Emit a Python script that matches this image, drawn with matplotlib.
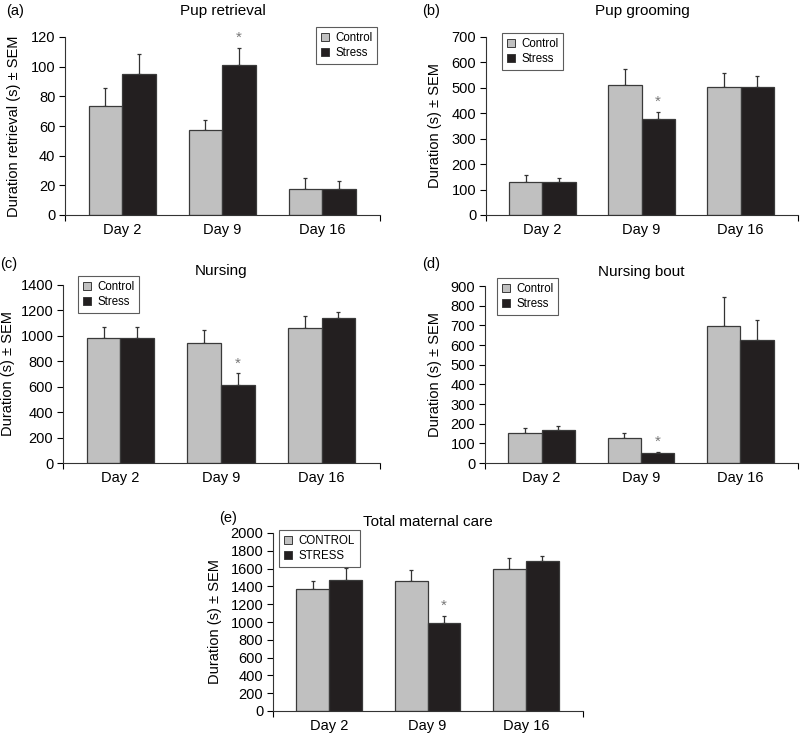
import numpy as np
import matplotlib
matplotlib.use("Agg")
import matplotlib.pyplot as plt
from matplotlib.patches import Patch

plt.rcParams['font.family'] = ['Liberation Sans', 'DejaVu Sans']

days = ['Day 2', 'Day 9', 'Day 16']

retrieval_ctrl = [73.5, 57, 17.5]
retrieval_ctrl_sem = [12, 7, 7.7]
retrieval_stress = [95.3, 101, 17.7]
retrieval_stress_sem = [13, 11.7, 5.4]

grooming_ctrl = [131, 510, 504]
grooming_ctrl_sem = [26, 66, 54]
grooming_stress = [130, 376, 504]
grooming_stress_sem = [14, 31, 42]

nursing_ctrl = [987, 942, 1060]
nursing_ctrl_sem = [86, 105, 100]
nursing_stress = [984, 610, 1144]
nursing_stress_sem = [89, 97, 42]

bout_ctrl = [155, 125, 699]
bout_ctrl_sem = [22, 30, 146]
bout_stress = [166, 51, 625]
bout_stress_sem = [20, 6, 101]

total_ctrl = [1371, 1457, 1599]
total_ctrl_sem = [86, 123, 124]
total_stress = [1472, 989, 1682]
total_stress_sem = [138, 82, 63]

W, H = 800, 734
fig = plt.figure(figsize=(W / 100, H / 100), dpi=100)

CTRL = '#c0c0c0'
STRESS = '#231f20'
EDGE = '#3a3a3a'


def px_axes(left, right, top, bottom):
    return fig.add_axes([left / W, 1 - bottom / H, (right - left) / W, (bottom - top) / H])


def panel(box, ctrl, ctrl_sem, stress, stress_sem, ymax, step, title, title_pad, ylabel,
          tag, tag_xy, ylab_x, leg_xy, labels=('Control', 'Stress'), star=1):
    ax = px_axes(*box)
    x = np.arange(len(days))
    w = 0.335
    ax.bar(x - w / 2, ctrl, w, color=CTRL, edgecolor=EDGE, linewidth=0.9, zorder=2)
    ax.bar(x + w / 2, stress, w, color=STRESS, edgecolor=EDGE, linewidth=0.9, zorder=2)
    ax.errorbar(x - w / 2, ctrl, yerr=[np.zeros(3), ctrl_sem], fmt='none',
                ecolor='#333333', elinewidth=0.9, capsize=1.5, capthick=0.9, zorder=1)
    ax.errorbar(x + w / 2, stress, yerr=[np.zeros(3), stress_sem], fmt='none',
                ecolor='#333333', elinewidth=0.9, capsize=1.5, capthick=0.9, zorder=1)
    top = stress[star] + stress_sem[star]
    ax.annotate('*', (x[star] + w / 2, top), xytext=(0, 2), textcoords='offset points',
                ha='center', va='bottom', fontsize=11, color='#777777')

    ax.set_xlim(-0.57, 2.58)
    ax.set_ylim(0, ymax)
    ax.set_yticks(np.arange(0, ymax + 1, step))
    ax.set_xticks(x)
    ax.set_xticklabels(days)
    ax.tick_params(axis='x', length=0, pad=6, labelsize=10.5)
    ax.tick_params(axis='y', length=4, width=0.8, direction='out', pad=3, labelsize=10.5)
    ax.set_xticks([-0.57, 2.58], minor=True)
    ax.tick_params(axis='x', which='minor', length=4, width=0.8, direction='out')
    for s in ['top', 'right']:
        ax.spines[s].set_visible(False)
    for s in ['left', 'bottom']:
        ax.spines[s].set_linewidth(0.8)
        ax.spines[s].set_color('#333333')

    ax.set_title(title, fontsize=11, pad=title_pad)
    fig.text(tag_xy[0] / W, 1 - tag_xy[1] / H, tag, fontsize=10.5, ha='left', va='center')
    fig.text(ylab_x / W, 1 - ((box[2] + box[3]) / 2) / H, ylabel, rotation=90,
             fontsize=10.5, ha='center', va='center')

    handles = [Patch(facecolor=CTRL, edgecolor=EDGE, linewidth=0.7, label=labels[0]),
               Patch(facecolor=STRESS, edgecolor=EDGE, linewidth=0.7, label=labels[1])]
    leg = ax.legend(handles=handles, loc='upper left',
                    bbox_to_anchor=(leg_xy[0] / W, 1 - leg_xy[1] / H),
                    bbox_transform=fig.transFigure, borderaxespad=0,
                    fontsize=8.3, frameon=True, fancybox=False,
                    handlelength=0.7, handleheight=0.7, handletextpad=0.5,
                    labelspacing=0.25, borderpad=0.45)
    leg.get_frame().set_edgecolor('#333333')
    leg.get_frame().set_linewidth(0.8)
    return ax


panel((65, 380, 37, 215), retrieval_ctrl, retrieval_ctrl_sem, retrieval_stress,
      retrieval_stress_sem, 120, 20, 'Pup retrieval', 16, 'Duration retrieval (s) \u00b1 SEM',
      '(a)', (6, 11), 14, (316, 27))

panel((486, 798, 37, 215), grooming_ctrl, grooming_ctrl_sem, grooming_stress,
      grooming_stress_sem, 700, 100, 'Pup grooming', 16, 'Duration (s) \u00b1 SEM',
      '(b)', (422, 11), 435, (502, 33))

panel((63, 380, 285, 463), nursing_ctrl, nursing_ctrl_sem, nursing_stress,
      nursing_stress_sem, 1400, 200, 'Nursing', 7, 'Duration (s) \u00b1 SEM',
      '(c)', (0, 264), 8, (78, 276))

panel((485, 798, 286, 463), bout_ctrl, bout_ctrl_sem, bout_stress,
      bout_stress_sem, 900, 100, 'Nursing bout', 7, 'Duration (s) \u00b1 SEM',
      '(d)', (422, 264), 435, (497, 278))

panel((273, 583, 533, 711), total_ctrl, total_ctrl_sem, total_stress,
      total_stress_sem, 2000, 200, 'Total maternal care', 5, 'Duration (s) \u00b1 SEM',
      '(e)', (219, 518), 215, (279, 530), labels=('CONTROL', 'STRESS'))

fig.savefig('out.png', dpi=100)
